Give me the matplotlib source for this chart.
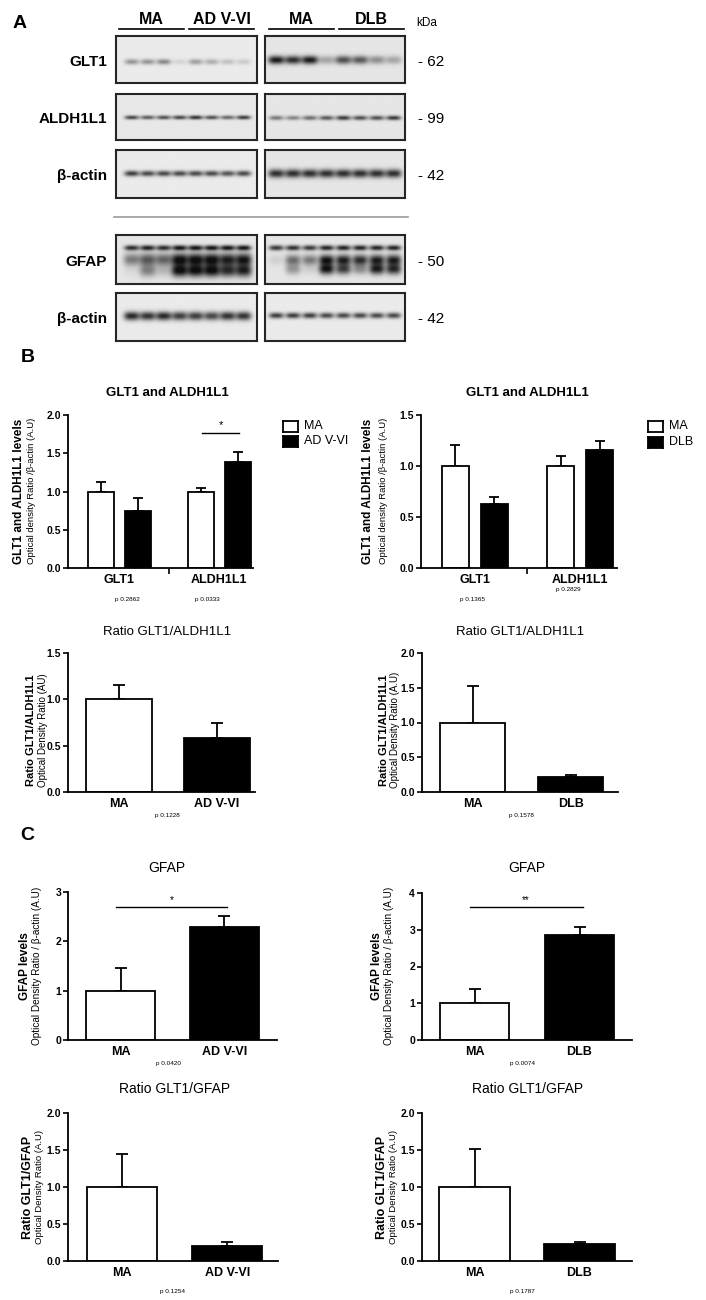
import numpy as np
import matplotlib
matplotlib.use("Agg")
import matplotlib.pyplot as plt
from matplotlib.ticker import FixedLocator

plt.rcParams['font.family'] = ['Liberation Sans', 'DejaVu Sans']
NARROW = ['Liberation Sans Narrow', 'Liberation Sans', 'DejaVu Sans']

# ---------------- DATA ----------------
# Panel A: band intensities (0..1) per lane, read from the blots
glt1_ad = [0.40, 0.40, 0.45, 0.10, 0.35, 0.28, 0.20, 0.15]
glt1_dlb = [0.95, 0.85, 0.95, 0.30, 0.70, 0.65, 0.40, 0.30]
aldh_ad = [0.75, 0.65, 0.70, 0.75, 0.85, 0.70, 0.60, 0.80]
aldh_dlb = [0.50, 0.45, 0.55, 0.65, 0.80, 0.70, 0.70, 0.80]
actin1_ad = [0.80, 0.75, 0.75, 0.75, 0.75, 0.75, 0.70, 0.75]
actin1_dlb = [0.85, 0.85, 0.85, 0.85, 0.85, 0.85, 0.85, 0.85]
gfap_top_ad = [0.85, 0.90, 0.85, 0.95, 0.95, 0.95, 0.95, 0.95]
gfap_mid_ad = [0.50, 0.65, 0.60, 1.00, 1.00, 1.00, 0.90, 0.95]
gfap_low_ad = [0.05, 0.45, 0.20, 1.00, 1.00, 1.00, 0.85, 0.90]
gfap_top_dlb = [0.80, 0.85, 0.80, 0.90, 0.90, 0.90, 0.90, 0.90]
gfap_mid_dlb = [0.10, 0.55, 0.50, 0.95, 0.90, 0.85, 0.90, 0.90]
gfap_low_dlb = [0.00, 0.35, 0.10, 0.95, 0.75, 0.40, 0.90, 0.85]
actin2_ad = [0.90, 0.85, 0.90, 0.80, 0.80, 0.75, 0.85, 0.85]
actin2_dlb = [0.80, 0.80, 0.80, 0.75, 0.75, 0.75, 0.75, 0.75]

blot_rows = ['GLT1', 'ALDH1L1', 'β-actin', 'GFAP', 'β-actin']
blot_kda = ['- 62', '- 99', '- 42', '- 50', '- 42']
group_headers = ['MA', 'AD V-VI', 'MA', 'DLB']

# Panel B
grp_cats = ['GLT1', 'ALDH1L1']
bl_ma = [1.00, 1.00]
bl_ma_top = [1.13, 1.04]
bl_ad = [0.75, 1.38]
bl_ad_top = [0.91, 1.51]
bl_p = ['p 0.2862', 'p 0.0333']

br_ma = [1.00, 1.00]
br_ma_top = [1.21, 1.10]
br_dlb = [0.63, 1.16]
br_dlb_top = [0.70, 1.25]
br_p = ['p 0.1365', 'p 0.2829']

cats_ad = ['MA', 'AD V-VI']
cats_dlb = ['MA', 'DLB']
ratio_ald_ad = [1.00, 0.58]
ratio_ald_ad_top = [1.16, 0.75]
ratio_ald_dlb = [1.00, 0.22]
ratio_ald_dlb_top = [1.52, 0.25]

# Panel C
gfap_ad = [1.00, 2.29]
gfap_ad_top = [1.45, 2.52]
gfap_dlb = [1.00, 2.87]
gfap_dlb_top = [1.39, 3.08]
ratio_gfap_ad = [1.00, 0.20]
ratio_gfap_ad_top = [1.45, 0.26]
ratio_gfap_dlb = [1.00, 0.23]
ratio_gfap_dlb_top = [1.51, 0.26]

# ---------------- FIGURE ----------------
W, H = 706, 1300
fig = plt.figure(figsize=(W / 100, H / 100), dpi=100)
fig.patch.set_facecolor('white')


def px_axes(x0, y0, x1, y1):
    return fig.add_axes([x0 / W, 1 - y1 / H, (x1 - x0) / W, (y1 - y0) / H])


def ftext(x, y, s, **kw):
    kw.setdefault('ha', 'center')
    kw.setdefault('va', 'center')
    return fig.text(x / W, 1 - y / H, s, **kw)


# ---------------- PANEL A ----------------
def draw_blot(ax, bg, bands, lanes):
    ny, nx = 120, 360
    yy = np.linspace(1, 0, ny)[:, None]
    xx = np.linspace(0, 1, nx)[None, :]
    img = np.full((ny, nx), bg, dtype=float)
    for yc, hh, ww, vals in bands:
        for xc, v in zip(lanes, vals):
            img -= 0.85 * v * np.exp(-np.abs((xx - xc) / ww) ** 3) * np.exp(-((yy - yc) / hh) ** 2)
    ax.imshow(np.clip(img, 0.06, 1), cmap='gray', vmin=0, vmax=1,
              extent=[0, 1, 0, 1], aspect='auto', interpolation='bilinear')
    ax.set_xlim(0, 1)
    ax.set_ylim(0, 1)
    ax.set_xticks([])
    ax.set_yticks([])
    for s in ax.spines.values():
        s.set_linewidth(1.5)
        s.set_color('#262626')


lanes_l = np.linspace(0.11, 0.90, 8)
lanes_r = np.linspace(0.08, 0.92, 8)
row_y = [(36, 83), (94, 140), (150, 198), (235, 284), (293, 341)]
row_bands = [
    ([(0.45, 0.06, 0.05, glt1_ad)], [(0.49, 0.09, 0.058, glt1_dlb)], 0.92, 0.90),
    ([(0.49, 0.045, 0.05, aldh_ad)], [(0.48, 0.05, 0.052, aldh_dlb)], 0.91, 0.90),
    ([(0.51, 0.06, 0.052, actin1_ad)], [(0.51, 0.09, 0.058, actin1_dlb)], 0.92, 0.90),
    ([(0.74, 0.055, 0.052, gfap_top_ad), (0.50, 0.13, 0.058, gfap_mid_ad), (0.27, 0.13, 0.058, gfap_low_ad)],
     [(0.74, 0.055, 0.052, gfap_top_dlb), (0.49, 0.11, 0.055, gfap_mid_dlb), (0.30, 0.11, 0.055, gfap_low_dlb)],
     0.90, 0.90),
    ([(0.51, 0.09, 0.055, actin2_ad)], [(0.52, 0.06, 0.052, actin2_dlb)], 0.92, 0.92),
]
for (y0, y1), (bl, br, bgl, bgr), lab, kda in zip(row_y, row_bands, blot_rows, blot_kda):
    axl = px_axes(116, y0, 257, y1)
    draw_blot(axl, bgl, bl, lanes_l)
    axr = px_axes(265, y0, 405, y1)
    draw_blot(axr, bgr, br, lanes_r)
    ym = (y0 + y1) / 2 + 2
    ftext(107, ym, lab, ha='right', fontsize=11, fontweight='bold', family=NARROW)
    ftext(418, ym, kda, ha='left', fontsize=11, family=NARROW)

# group headers and lines
hdr_spans = [(119, 184), (189, 254), (269, 334), (339, 404)]
for (a, b), h in zip(hdr_spans, group_headers):
    fig.add_artist(plt.Line2D([a / W, b / W], [1 - 29 / H, 1 - 29 / H], color='black', lw=1.2))
    ftext((a + b) / 2, 20, h, fontsize=11.5, fontweight='bold', family=NARROW)
ftext(427, 23, 'kDa', fontsize=8.5, family=NARROW)
fig.add_artist(plt.Line2D([114 / W, 408 / W], [1 - 217 / H, 1 - 217 / H], color='#9a9a9a', lw=1.2))

ftext(20, 23, 'A', fontsize=14, fontweight='bold')
ftext(28, 357, 'B', fontsize=14, fontweight='bold')
ftext(27, 836, 'C', fontsize=14, fontweight='bold')


# ---------------- BAR CHARTS ----------------
def style_axes(ax, ymax, ystep, fmt):
    for s in ['top', 'right']:
        ax.spines[s].set_visible(False)
    for s in ['left', 'bottom']:
        ax.spines[s].set_linewidth(1.3)
    ax.set_ylim(0, ymax)
    ticks = np.arange(0, ymax + 1e-9, ystep)
    ax.set_yticks(ticks)
    ax.set_yticklabels([fmt.format(t) for t in ticks], fontweight='bold', fontsize=7.5)
    ax.tick_params(axis='y', length=3.5, width=1.2, pad=1.5)
    ax.tick_params(axis='x', which='major', length=0, pad=4, labelsize=8.5)
    ax.patch.set_alpha(0)


def errbars(ax, xs, vals, tops, cap):
    vals = np.asarray(vals)
    tops = np.asarray(tops)
    ax.errorbar(xs, vals, yerr=[np.zeros_like(vals), tops - vals], fmt='none',
                ecolor='black', elinewidth=1.3, capsize=cap, capthick=1.3, zorder=1)


def grouped_chart(box, ymax, ystep, ma, ma_top, dis, dis_top, xlim):
    ax = px_axes(*box)
    x = np.arange(len(grp_cats))
    off, w = 0.185, 0.26
    errbars(ax, x - off, ma, ma_top, 3.5)
    errbars(ax, x + off, dis, dis_top, 3.5)
    ax.bar(x - off, ma, w, color='white', edgecolor='black', linewidth=1.3, zorder=2)
    ax.bar(x + off, dis, w, color='black', edgecolor='black', linewidth=1.3, zorder=2)
    ax.set_xlim(*xlim)
    style_axes(ax, ymax, ystep, '{:.1f}')
    ax.set_xticks(x)
    ax.set_xticklabels(grp_cats, fontweight='bold', fontsize=9)
    ax.xaxis.set_minor_locator(FixedLocator([0.5]))
    ax.tick_params(axis='x', which='minor', length=4, width=1.2, direction='out')
    return ax


def pair_chart(box, ymax, ystep, fmt, vals, tops, cats, xlim, w=0.67, cap=4.5):
    ax = px_axes(*box)
    x = np.arange(len(vals))
    errbars(ax, x, vals, tops, cap)
    ax.bar(x, vals, w, color=['white', 'black'], edgecolor='black', linewidth=1.3, zorder=2)
    ax.set_xlim(*xlim)
    style_axes(ax, ymax, ystep, fmt)
    ax.set_xticks(x)
    ax.set_xticklabels(cats, fontweight='bold', fontsize=9)
    return ax


def legend_box(x, y, label, face):
    ax = fig.add_axes([x / W, 1 - (y + 5.5) / H, 15 / W, 11 / H])
    ax.set_xticks([]); ax.set_yticks([])
    ax.set_facecolor(face)
    for s in ax.spines.values():
        s.set_linewidth(1.3)
    ftext(x + 21, y, label, ha='left', fontsize=9)


PFS = 4.6

# B left
axb1 = grouped_chart((68, 415, 253, 568), 2.0, 0.5, bl_ma, bl_ma_top, bl_ad, bl_ad_top, (-0.51, 1.34))
axb1.plot([0.83, 1.2], [1.77, 1.77], color='black', lw=1.0)
axb1.text(1.015, 1.80, '*', ha='center', va='bottom', fontsize=8)
ftext(167, 393, 'GLT1 and ALDH1L1', fontsize=9.5, fontweight='bold')
ftext(19, 491, 'GLT1 and ALDH1L1 levels', rotation=90, fontsize=8.5, fontweight='bold')
ftext(32, 491, 'Optical density Ratio /β-actin (A.U)', rotation=90, fontsize=6.8)
ftext(127, 599, bl_p[0], fontsize=PFS)
ftext(207, 599, bl_p[1], fontsize=PFS)
legend_box(283, 426, 'MA', 'white')
legend_box(283, 441, 'AD V-VI', 'black')

# B right
axb2 = grouped_chart((421, 415, 617, 568), 1.5, 0.5, br_ma, br_ma_top, br_dlb, br_dlb_top, (-0.51, 1.35))
ftext(527, 393, 'GLT1 and ALDH1L1', fontsize=9.5, fontweight='bold')
ftext(368, 491, 'GLT1 and ALDH1L1 levels', rotation=90, fontsize=8.5, fontweight='bold')
ftext(383, 491, 'Optical density Ratio /β-actin (A.U)', rotation=90, fontsize=6.8)
ftext(473, 599, br_p[0], fontsize=PFS)
ftext(568, 590, br_p[1], fontsize=PFS)
legend_box(648, 426, 'MA', 'white')
legend_box(648, 442, 'DLB', 'black')

# Ratio GLT1/ALDH1L1 left
pair_chart((68, 653, 255, 792), 1.5, 0.5, '{:.1f}', ratio_ald_ad, ratio_ald_ad_top, cats_ad, (-0.52, 1.39))
ftext(167, 632, 'Ratio GLT1/ALDH1L1', fontsize=9.5)
ftext(31, 730, 'Ratio GLT1/ALDH1L1', rotation=90, fontsize=8, fontweight='bold')
ftext(43, 730, 'Optical Density Ratio (AU)', rotation=90, fontsize=7)
ftext(167, 816, 'p 0.1228', fontsize=PFS)

# Ratio GLT1/ALDH1L1 right
pair_chart((422, 653, 618, 792), 2.0, 0.5, '{:.1f}', ratio_ald_dlb, ratio_ald_dlb_top, cats_dlb, (-0.515, 1.48), w=0.66)
ftext(520, 632, 'Ratio GLT1/ALDH1L1', fontsize=9.5)
ftext(384, 730, 'Ratio GLT1/ALDH1L1', rotation=90, fontsize=8, fontweight='bold')
ftext(395, 730, 'Optical Density Ratio (A.U)', rotation=90, fontsize=7)
ftext(521, 816, 'p 0.1578', fontsize=PFS)

# GFAP left
axc1 = pair_chart((68, 892, 277, 1040), 3, 1, '{:.0f}', gfap_ad, gfap_ad_top, cats_ad, (-0.51, 1.51))
axc1.plot([-0.05, 1.03], [2.70, 2.70], color='black', lw=1.0)
axc1.text(0.49, 2.74, '*', ha='center', va='bottom', fontsize=7)
ftext(167, 868, 'GFAP', fontsize=10)
ftext(25, 966, 'GFAP levels', rotation=90, fontsize=8.5, fontweight='bold')
ftext(37, 966, 'Optical Density Ratio / β-actin (A.U)', rotation=90, fontsize=7.2)
ftext(169, 1064, 'p 0.0420', fontsize=PFS)

# GFAP right
axc2 = pair_chart((422, 893, 632, 1040), 4, 1, '{:.0f}', gfap_dlb, gfap_dlb_top, cats_dlb, (-0.50, 1.5), w=0.66)
axc2.plot([-0.04, 1.03], [3.62, 3.62], color='black', lw=1.0)
axc2.text(0.49, 3.67, '**', ha='center', va='bottom', fontsize=7)
ftext(527, 868, 'GFAP', fontsize=10)
ftext(377, 966, 'GFAP levels', rotation=90, fontsize=8.5, fontweight='bold')
ftext(389, 966, 'Optical Density Ratio / β-actin (A.U)', rotation=90, fontsize=7.2)
ftext(522, 1064, 'p 0.0074', fontsize=PFS)

# Ratio GLT1/GFAP left
pair_chart((68, 1113, 278, 1261), 2.0, 0.5, '{:.1f}', ratio_gfap_ad, ratio_gfap_ad_top, cats_ad, (-0.51, 1.48), w=0.665)
ftext(175, 1089, 'Ratio GLT1/GFAP', fontsize=10)
ftext(28, 1187, 'Ratio GLT1/GFAP', rotation=90, fontsize=9, fontweight='bold')
ftext(39, 1187, 'Optical Density Ratio (A.U)', rotation=90, fontsize=6.8)
ftext(172, 1291, 'p 0.1254', fontsize=PFS)

# Ratio GLT1/GFAP right
pair_chart((422, 1113, 632, 1261), 2.0, 0.5, '{:.1f}', ratio_gfap_dlb, ratio_gfap_dlb_top, cats_dlb, (-0.50, 1.5), w=0.68)
ftext(528, 1089, 'Ratio GLT1/GFAP', fontsize=10)
ftext(382, 1187, 'Ratio GLT1/GFAP', rotation=90, fontsize=9, fontweight='bold')
ftext(393, 1187, 'Optical Density Ratio (A.U)', rotation=90, fontsize=6.8)
ftext(522, 1291, 'p 0.1787', fontsize=PFS)

fig.savefig('out.png', dpi=100, facecolor='white')
